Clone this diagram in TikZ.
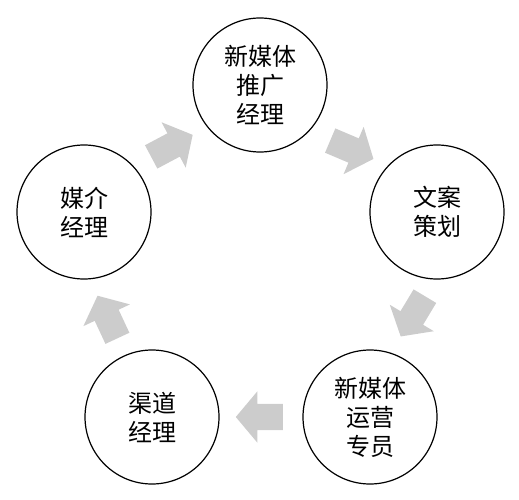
\documentclass[tikz,border=0pt]{standalone}
\usepackage{fontspec}
\newfontfamily\cjk{Noto Sans CJK SC}
\usepackage{tikz}
\usetikzlibrary{shapes.arrows}

\begin{document}
\begin{tikzpicture}[x=1pt, y=1pt,
  role/.style={circle, draw, line width=1.2pt, minimum size=134pt, inner sep=0pt, align=center, font=\cjk\fontsize{24}{29}\selectfont},
  flow/.style={single arrow, fill=black!20, minimum height=47pt, single arrow head extend=12.5pt, single arrow tip angle=100, inner xsep=0pt, inner ysep=13pt, anchor=tail}]
%%%%% Frame %%%%%
\useasboundingbox (0,0) rectangle (519,499);
%%%%% Roles %%%%%
\node[role] (tuiguang) at (260,414) {新媒体\\推广\\经理};
\node[role] (wenan) at (437,287) {文案\\策划};
\node[role] (yunying) at (370,82) {新媒体\\运营\\专员};
\node[role] (qudao) at (152,82) {渠道\\经理};
\node[role] (meijie) at (84,287) {媒介\\经理};
%%%%% Flow arrows (placed by their tails) %%%%%
\foreach \name/\x/\y/\r in {f1/151/342/28, f2/330/358.5/-23, f3/425/203/-121, f4/283/82/180, f5/117.5/160.5/115}{
\node[flow, rotate=\r] (\name) at (\x,\y) {};
}
\end{tikzpicture}
\end{document}
